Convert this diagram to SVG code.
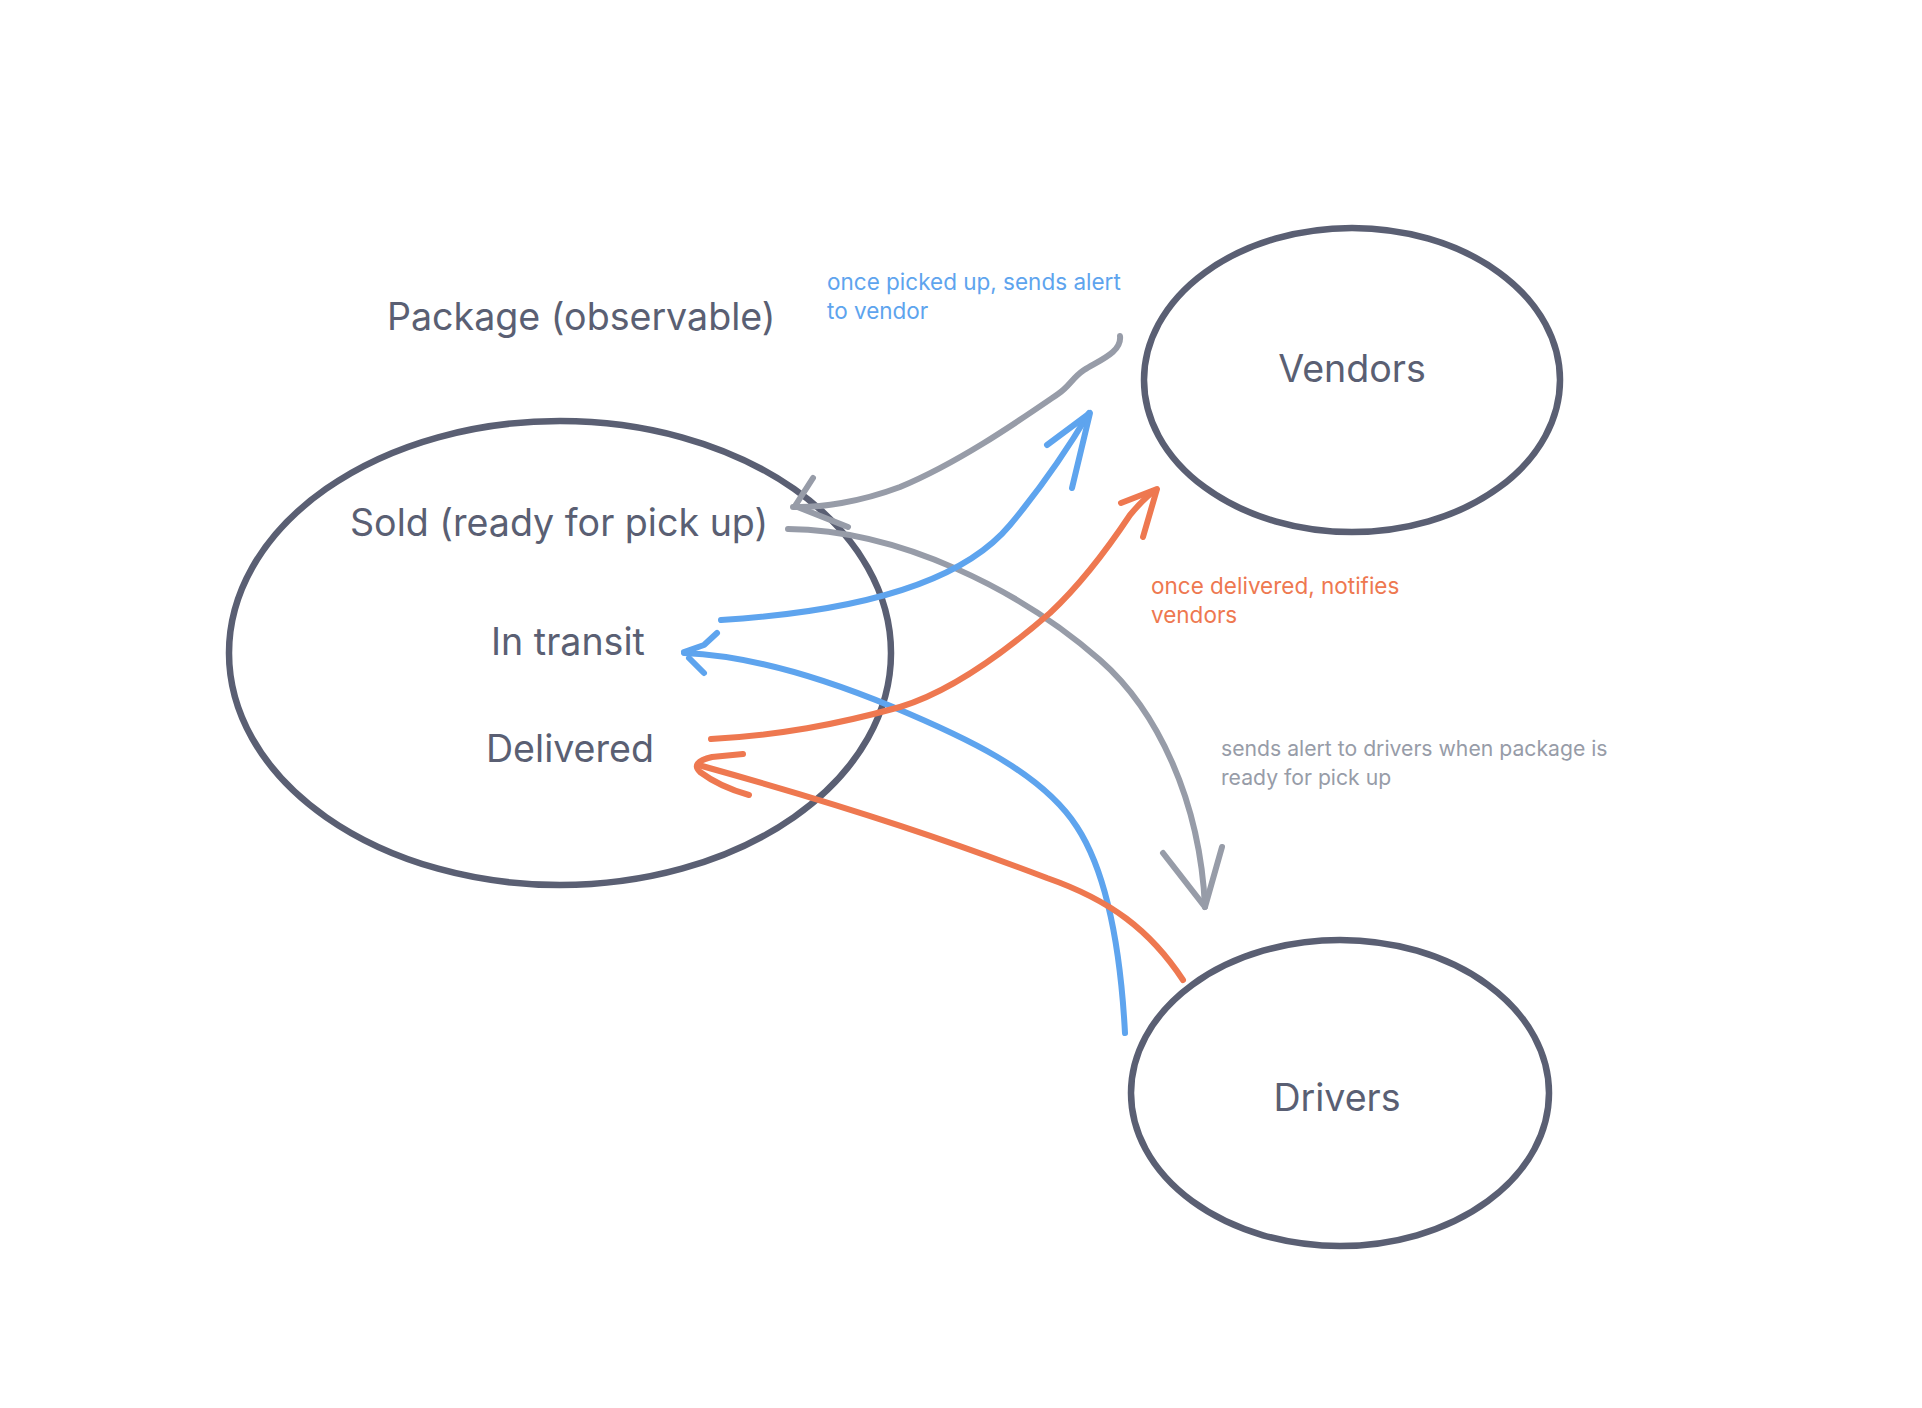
<svg xmlns="http://www.w3.org/2000/svg" width="1922" height="1408" viewBox="0 0 1922 1408">
<style>
.node{fill:none;stroke:#5a5f73;stroke-width:6.5}
.t{font-family:Inter,"Open Sans","Liberation Sans",sans-serif;fill:#5a5f73;font-size:37.6px}
.lbl{font-family:Inter,"Open Sans","Liberation Sans",sans-serif;font-size:22.5px}
.lbl.sm{font-size:21.2px}
.c{fill:none;stroke-width:6;stroke-linecap:round;stroke-linejoin:round}
.blue{stroke:#5ea4ee}
.orange{stroke:#ee7850}
.gray{stroke:#979ca8}
</style>
<rect width="1922" height="1408" fill="#ffffff"/>
<g id="node-package">
<text class="t" x="387" y="330">Package (observable)</text>
<ellipse class="node" cx="560" cy="653" rx="331" ry="232"/>
<text class="t" x="350" y="536">Sold (ready for pick up)</text>
<text class="t" x="491" y="655">In transit</text>
<text class="t" x="486" y="762">Delivered</text>
</g>
<g id="node-vendors">
<ellipse class="node" cx="1352" cy="380" rx="208" ry="152"/>
<text class="t" x="1352" y="382" text-anchor="middle">Vendors</text>
</g>
<g id="node-drivers">
<ellipse class="node" cx="1340" cy="1093" rx="209" ry="153"/>
<text class="t" x="1337" y="1111" text-anchor="middle">Drivers</text>
</g>
<g id="connectors">
<path class="c gray" d="M1120,336 C1122,352 1100,360 1084,370 C1072,378 1070,386 1058,394 C1020,420 960,462 900,487 C860,502 820,508 793,507"/>
<path class="c gray" d="M813,478 L795,506 L848,527"/>
<path class="c gray" d="M788,529 C900,530 1020,590 1100,660 C1157,710 1200,800 1205,907"/>
<path class="c gray" d="M1163,853 L1205,907 L1222,847"/>
<path class="c blue" d="M721,620 C850,612 960,585 1010,525 C1040,489 1070,445 1089,413"/>
<path class="c blue" d="M1047,445 L1090,413 L1072,488"/>
<path class="c blue" d="M1125,1033 C1120,940 1105,870 1077,827 C1041,771 960,735 893,707 C840,685 760,656 684,653"/>
<path class="c blue" d="M717,633 L704,645 L684,652 M689,658 L704,673"/>
<path class="c orange" d="M711,739 C780,735 835,725 900,707 C940,695 990,665 1050,613 C1080,585 1110,545 1130,515 C1140,503 1148,495 1156,490"/>
<path class="c orange" d="M1121,503 L1157,489 L1143,537"/>
<path class="c orange" d="M1183,980 C1150,930 1110,900 1047,878 C960,845 860,810 702,766"/>
<path class="c orange" d="M743,754 L712,757 Q690,762 700,772 Q720,787 749,795"/>
<text class="lbl" x="827" y="290" fill="#5ea4ee">once picked up, sends alert</text>
<text class="lbl" x="827" y="319" fill="#5ea4ee">to vendor</text>
<text class="lbl" x="1151" y="594" fill="#ee7850">once delivered, notifies</text>
<text class="lbl" x="1151" y="623" fill="#ee7850">vendors</text>
<text class="lbl sm" x="1221" y="756" fill="#979ca8">sends alert to drivers when package is</text>
<text class="lbl sm" x="1221" y="785" fill="#979ca8">ready for pick up</text>
</g>
</svg>
